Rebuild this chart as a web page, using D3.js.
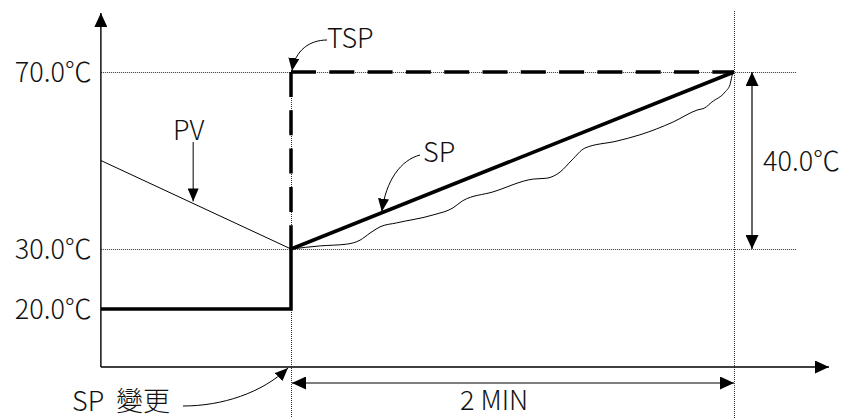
<!DOCTYPE html>
<html>
<head>
<meta charset="utf-8">
<script src="https://cdn.jsdelivr.net/npm/d3@7"></script>
<style>
  html, body { margin: 0; padding: 0; background: #fff; }
  svg text { font-family: "Noto Sans CJK KR", "Noto Sans CJK TC", sans-serif; font-weight: 300; fill: #111; }
</style>
</head>
<body>
<script>
// time in seconds from the SP change, temperatures in degC
var tStart = -51.5, tEnd = 120
var yLevels = [70, 30, 20]
var yLabels = ["70.0℃", "30.0℃", "20.0℃"]

var spTime = [tStart, 0, 0, 120]
var spTemp = [20, 20, 30, 70]

var tspTime = [0, 0, 120]
var tspTemp = [30, 70, 70]

var pvDropTime = [tStart, 0]
var pvDropTemp = [50, 30]

var pvRiseTime = [0, 7.9, 15.1, 18.7, 21.4, 24.1, 28.6, 38.5, 43.9, 46.5, 54.7, 65.6, 69.3, 72.9, 76.1, 79.6, 88.3, 94.5, 103.5, 110.0, 112.1, 114.0, 117.6, 118.9, 119.7, 120]
var pvRiseTemp = [30, 30.7, 31.1, 32.0, 33.6, 35.0, 35.9, 37.7, 39.3, 40.9, 42.9, 45.8, 46.0, 47.4, 50.1, 52.8, 54.4, 55.8, 58.7, 61.4, 61.9, 63.2, 65.5, 67.1, 69.8, 70]

var width = 854, height = 418
var axisBottom = 367, axisTop = 13, axisRight = 829, gridRight = 797
var fontSize = 27

var x = d3.scaleLinear().domain([0, tEnd]).range([291, 734])
var y = d3.scaleLinear().domain([20, 30, 70]).range([309, 249, 72])
var x0 = x(tStart)

var svg = d3.select("body").append("svg")
    .attr("width", width)
    .attr("height", height)

var defs = svg.append("defs")
function marker(id, w, h) {
  defs.append("marker")
      .attr("id", id)
      .attr("viewBox", "0 0 " + w + " " + h)
      .attr("refX", w).attr("refY", h / 2)
      .attr("markerWidth", w).attr("markerHeight", h)
      .attr("markerUnits", "userSpaceOnUse")
      .attr("orient", "auto-start-reverse")
    .append("path")
      .attr("d", "M0,0L" + w + "," + (h / 2) + "L0," + h + "Z")
      .attr("fill", "#000")
}
marker("arrow", 14, 13)
marker("arrowS", 13, 11)

var pts = function (ts, vs) { return ts.map(function (t, i) { return [t, vs[i]] }) }
var line = d3.line().x(function (d) { return x(d[0]) }).y(function (d) { return y(d[1]) })

// dotted guides
var grid = svg.append("g")
    .attr("stroke", "#333").attr("stroke-width", 1).attr("stroke-dasharray", "1,1").attr("fill", "none")
grid.selectAll("line.h").data([70, 30]).enter().append("line")
    .attr("x1", x0).attr("x2", gridRight)
    .attr("y1", function (d) { return y(d) + 0.5 }).attr("y2", function (d) { return y(d) + 0.5 })
grid.append("line")
    .attr("x1", x(0) + 0.5).attr("x2", x(0) + 0.5).attr("y1", y(70)).attr("y2", height)
grid.append("line")
    .attr("x1", x(tEnd) + 0.5).attr("x2", x(tEnd) + 0.5).attr("y1", axisTop - 2).attr("y2", height)

// axes
svg.append("line")
    .attr("x1", x0).attr("x2", x0).attr("y1", axisBottom).attr("y2", axisTop)
    .attr("stroke", "#000").attr("stroke-width", 1.4).attr("marker-end", "url(#arrow)")
svg.append("line")
    .attr("x1", x0).attr("x2", axisRight).attr("y1", axisBottom).attr("y2", axisBottom)
    .attr("stroke", "#000").attr("stroke-width", 1.4).attr("marker-end", "url(#arrow)")

var yAxis = svg.append("g")
    .attr("transform", "translate(" + x0 + ",0)")
    .call(d3.axisLeft(y).tickValues(yLevels).tickSize(0).tickPadding(9)
        .tickFormat(function (d, i) { return yLabels[i] }))
yAxis.select(".domain").remove()
yAxis.selectAll("text")
    .attr("font-size", fontSize)
    .attr("font-family", null)
    .attr("dy", "0.36em")

// PV
svg.append("path")
    .datum(pts(pvDropTime, pvDropTemp))
    .attr("d", line)
    .attr("fill", "none").attr("stroke", "#000").attr("stroke-width", 1)
svg.append("path")
    .datum(pts(pvRiseTime, pvRiseTemp))
    .attr("d", line.curve(d3.curveMonotoneX))
    .attr("fill", "none").attr("stroke", "#000").attr("stroke-width", 1)
line.curve(d3.curveLinear)

// TSP, dashed, drawn outward from its corner
var tsp = pts(tspTime, tspTemp)
svg.selectAll("path.tsp").data([[tsp[1], tsp[0]], [tsp[1], tsp[2]]]).enter().append("path")
    .attr("class", "tsp")
    .attr("d", line)
    .attr("fill", "none").attr("stroke", "#000").attr("stroke-width", 3.5)
    .attr("stroke-dasharray", "25,13.3")

// SP
svg.append("path")
    .datum(pts(spTime, spTemp))
    .attr("d", line)
    .attr("fill", "none").attr("stroke", "#000").attr("stroke-width", 3.5)
    .attr("stroke-linejoin", "miter")

// dimension arrows
var dimX = x(tEnd) + 18
svg.append("line")
    .attr("x1", dimX).attr("x2", dimX).attr("y1", y(70)).attr("y2", y(30))
    .attr("stroke", "#000").attr("stroke-width", 1.2)
    .attr("marker-start", "url(#arrow)").attr("marker-end", "url(#arrow)")
svg.append("text").attr("x", dimX + 11).attr("y", (y(70) + y(30)) / 2 + 10)
    .attr("font-size", fontSize).text("40.0℃")

var dimY = axisBottom + 16
svg.append("line")
    .attr("x1", x(0) + 1).attr("x2", x(tEnd)).attr("y1", dimY).attr("y2", dimY)
    .attr("stroke", "#000").attr("stroke-width", 1.2)
    .attr("marker-start", "url(#arrow)").attr("marker-end", "url(#arrow)")
svg.append("text").attr("x", 460).attr("y", 410)
    .attr("font-size", fontSize).text("2 MIN")

// callouts
function callout(d) {
  svg.append("path")
      .attr("d", d)
      .attr("fill", "none").attr("stroke", "#000").attr("stroke-width", 1)
      .attr("marker-end", "url(#arrowS)")
}

var pvTipT = -26.5, pvTipY = y(50 + (30 - 50) * (pvTipT - tStart) / (0 - tStart)) - 2
callout("M" + x(pvTipT) + ",142L" + x(pvTipT) + "," + pvTipY)
svg.append("text").attr("x", 173).attr("y", 140).attr("font-size", fontSize).text("PV")

var spTipT = 24.6, spTipX = x(spTipT), spTipY = y(30 + 40 * spTipT / 120) - 1
callout("M420,155C401,160 386,180 " + spTipX + "," + spTipY)
svg.append("text").attr("x", 423).attr("y", 162).attr("font-size", fontSize).text("SP")

callout("M327,40C310,40 295,50 " + (x(0) + 1) + "," + (y(70) - 1))
svg.append("text").attr("x", 327).attr("y", 48).attr("font-size", fontSize).text("TSP")

callout("M183,406C222,406 262,393 " + (x(0) - 3) + "," + (axisBottom + 1))
svg.append("text").attr("x", 72).attr("y", 411).attr("font-size", fontSize).attr("xml:space", "preserve").text("SP  變更")
</script>
</body>
</html>
